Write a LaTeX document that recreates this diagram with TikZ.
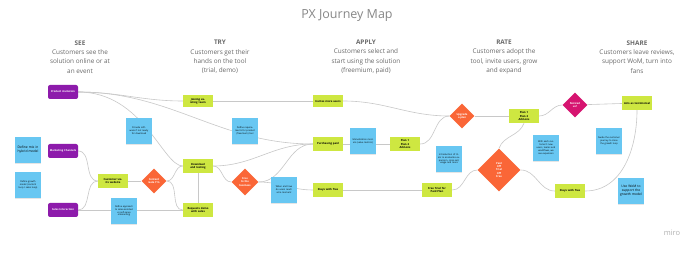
\documentclass[tikz,border=0pt]{standalone}
\usepackage{fontspec}
\setmainfont{Open Sans}
\usetikzlibrary{shapes, backgrounds, shadows}
\definecolor{miropurple}{RGB}{141, 27, 171}
\definecolor{limegreen}{RGB}{206, 231, 65}
\definecolor{skyblue}{RGB}{104, 199, 242}
\definecolor{gateorange}{RGB}{250, 102, 55}
\definecolor{hotpink}{RGB}{214, 20, 112}
\definecolor{linegray}{RGB}{200, 200, 200}
\definecolor{headgray}{RGB}{105, 105, 105}
\tikzset{
  source/.style={fill=miropurple, rounded corners=2pt, minimum width=30pt, minimum height=14pt, text width=27pt, align=center, inner sep=0pt, text=white, font=\fontsize{2.6}{3.1}\selectfont\bfseries},
  stepbox/.style={fill=limegreen, minimum width=30pt, minimum height=14pt, text width=27pt, align=center, inner sep=0pt, font=\fontsize{2.7}{3.2}\selectfont\bfseries},
  sticky/.style={fill=skyblue, minimum width=26pt, minimum height=26pt, text width=22pt, align=center, inner sep=0pt, font=\fontsize{2.3}{2.9}\selectfont, drop shadow={shadow xshift=0pt, shadow yshift=-0.8pt, opacity=0.2}},
  gate/.style={diamond, fill=gateorange, minimum size=25pt, inner sep=0pt, align=center, text=white, font=\fontsize{2.6}{3.1}\selectfont\bfseries},
  link/.style={draw=linegray, line width=0.6pt},
  header/.style={align=center, text=headgray, font=\fontsize{6.4}{9.2}\selectfont}
}

\begin{document}
\begin{tikzpicture}[x=1pt, y=-1pt]
    \useasboundingbox (0,0) rectangle (700,253);

    \node (title) [text=headgray!80, font=\fontsize{12.5}{15}\selectfont] at (347,16) {PX Journey Map};
    \node (see) [header] at (80,57) {\textbf{SEE}\\Customers see the\\solution online or at\\an event};
    \node (try) [header] at (220,57) {\textbf{TRY}\\Customers get their\\hands on the tool\\(trial, demo)};
    \node (apply) [header] at (366,57) {\textbf{APPLY}\\Customers select and\\start using the solution\\(freemium, paid)};
    \node (rate) [header] at (504,57) {\textbf{RATE}\\Customers adopt the\\tool, invite users, grow\\and expand};
    \node (share) [header] at (637,57) {\textbf{SHARE}\\Customers leave reviews,\\support WoM, turn into\\fans};

    \node (pinv) [source] at (63,92) {Product invitation};
    \node (mkt) [source] at (63,151) {Marketing Channels};
    \node (sales) [source] at (63,210) {Sales Interaction};
    \node (mix) [sticky, font=\fontsize{3.3}{4}\selectfont] at (28,150) {Define mix in hybrid model};
    \node (growth) [sticky] at (28,185) {Define growth model (content loop / sales loop)};
    \node (soft) [sticky] at (139,131) {Provide software if not ready for download};
    \node (visit) [stepbox] at (113,181) {Customer visits website};
    \node (cgate) [gate] at (154,181) {Content\\Gate Y/n};
    \node (approach) [sticky] at (124,211) {Define approach to sales-assisted vs self-serve onboarding};

    \node (join) [stepbox, minimum height=12pt] at (198,101) {Joining existing team};
    \node (req) [sticky] at (245,131) {Define requirements for product (freemium) tool};
    \node (dltest) [stepbox] at (198,166) {Download and testing};
    \node (demo) [stepbox] at (198,210) {Requests demo with sales};
    \node (ftb) [gate, minimum size=27pt] at (245,182) {Free\\to the\\business};
    \node (aha) [sticky] at (284,190) {When and how do users reach a-ha moment};

    \node (invite) [stepbox, minimum height=12pt] at (328,101) {Invites more users};
    \node (paid) [stepbox] at (328,144) {Purchasing paid};
    \node (sfree) [stepbox] at (328,190) {Stays with free};
    \node (money) [sticky] at (363,141) {Monetization models (value metrics)};
    \node (plan1) [stepbox] at (405,144) {Plan 1\\Plan 2\\Add-ons};

    \node (upg) [gate] at (462,116) {Upgrade\\a plan};
    \node (intro) [sticky] at (449,159) {Introduction of trials to accelerate expansion, cross-sell, usage and more};
    \node (trial) [stepbox] at (437,190) {Free Trial for Paid Plan};
    \node (bigd) [gate, minimum size=43pt] at (499,170) {Paid\\Off\\Trial\\Off\\Free};
    \node (plan2) [stepbox] at (524,116) {Plan 1\\Plan 2\\Add-ons};
    \node (each) [sticky] at (546,148) {With each customer's new users, teams and workflows, we see expansion};
    \node (sfree2) [stepbox] at (570,191) {Stays with free};

    \node (notice) [gate, fill=hotpink] at (575,105) {Noticed\\us?};
    \node (testi) [stepbox] at (637,103) {Acts as testimonial};
    \node (guide) [sticky] at (609,141) {Guide the customer journey to close the growth loop};
    \node (wom) [sticky, font=\fontsize{3.3}{4}\selectfont] at (631,191) {Use WoM to support the growth model};

    \node (logo) [text=black!30, font=\fontsize{7.5}{9}\selectfont] at (672,233) {miro};

    \begin{scope}[on background layer]
        \fill[white] (0,0) rectangle (700,253);
        \draw[link] (pinv.east) to[out=0, in=180] (join.west);
        \draw[link] (pinv.east) to[out=0, in=180] (paid.west);
        \draw[link] (pinv.east) to[out=0, in=180, out looseness=1.3, in looseness=0.4] (dltest.west);
        \draw[link] (mkt.east) to[out=0, in=180] (visit.west);
        \draw[link] (sales.east) to[out=0, in=180] (visit.west);
        \draw[link] (sales) -- (demo);
        \draw[link] (visit) -- (cgate);
        \draw[link] (cgate.east) to[out=0, in=180] (dltest.west);
        \draw[link] (cgate.east) to[out=0, in=180] (demo.west);
        \draw[link] (dltest) -- (demo);
        \draw[link] (dltest.east) to[out=0, in=180] (paid.west);
        \draw[link] (dltest.east) to[out=0, in=180] (ftb.west);
        \draw[link] (ftb.east) to[out=0, in=180] (paid.west);
        \draw[link] (ftb.east) to[out=0, in=180] (sfree.west);
        \draw[link] (join) -- (invite);
        \draw[link] (invite.east) to[out=0, in=180] (upg.west);
        \draw[link] (paid) -- (plan1);
        \draw[link] (plan1.east) to[out=0, in=180] (upg.west);
        \draw[link] (upg) -- (plan2);
        \draw[link] (sfree) -- (trial);
        \draw[link] (trial.east) to[out=0, in=180] (bigd.west);
        \draw[link] (bigd.north) to[out=70, in=-110] (plan2.south);
        \draw[link] (bigd.east) to[out=0, in=180] (sfree2.west);
        \draw[link] (plan2.east) to[out=0, in=180] (notice.west);
        \draw[link] (notice) -- (testi);
        \draw[link] (sfree2.east) to[out=0, in=-90] (testi.south);
    \end{scope}
\end{tikzpicture}
\end{document}
